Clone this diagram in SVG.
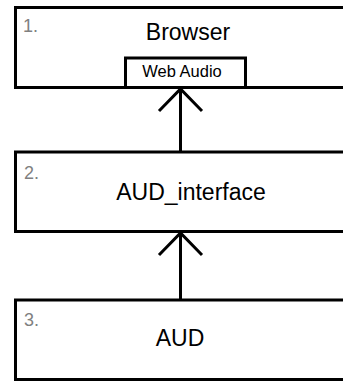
<svg xmlns="http://www.w3.org/2000/svg" width="343" height="381" viewBox="0 0 343 381">
<style>
.box{fill:#fff;stroke:#000;stroke-width:3}
.num{font-family:"Liberation Sans",Arial,sans-serif;font-size:18px;fill:#808080}
.lbl{font-family:"Liberation Sans",Arial,sans-serif;font-size:23px;fill:#000;text-anchor:middle}
.sub{font-family:"Liberation Sans",Arial,sans-serif;font-size:16.5px;fill:#000;text-anchor:middle}
.con{fill:none;stroke:#000;stroke-width:3}
</style>
<rect width="343" height="381" fill="#fff"/>
<g id="browser">
<rect class="box" x="15.5" y="7.5" width="400" height="80"/>
<text class="num" x="23" y="32">1.</text>
<text class="lbl" x="188" y="40">Browser</text>
</g>
<g id="webaudio">
<rect class="box" x="125.5" y="58" width="120" height="29.5"/>
<text class="sub" x="182" y="77">Web Audio</text>
</g>
<g id="aud_interface">
<rect class="box" x="15.5" y="152" width="400" height="79.5"/>
<text class="num" x="24" y="179">2.</text>
<text class="lbl" x="191" y="200">AUD_interface</text>
</g>
<g id="aud">
<rect class="box" x="15.5" y="300" width="400" height="79.5"/>
<text class="num" x="24" y="326">3.</text>
<text class="lbl" x="180" y="346">AUD</text>
</g>
<g id="connectors">
<path class="con" d="M180.5 152V89M159 111L180.5 89L202 111"/>
<path class="con" d="M180.5 300V233M159 255L180.5 233L202 255"/>
</g>
</svg>
